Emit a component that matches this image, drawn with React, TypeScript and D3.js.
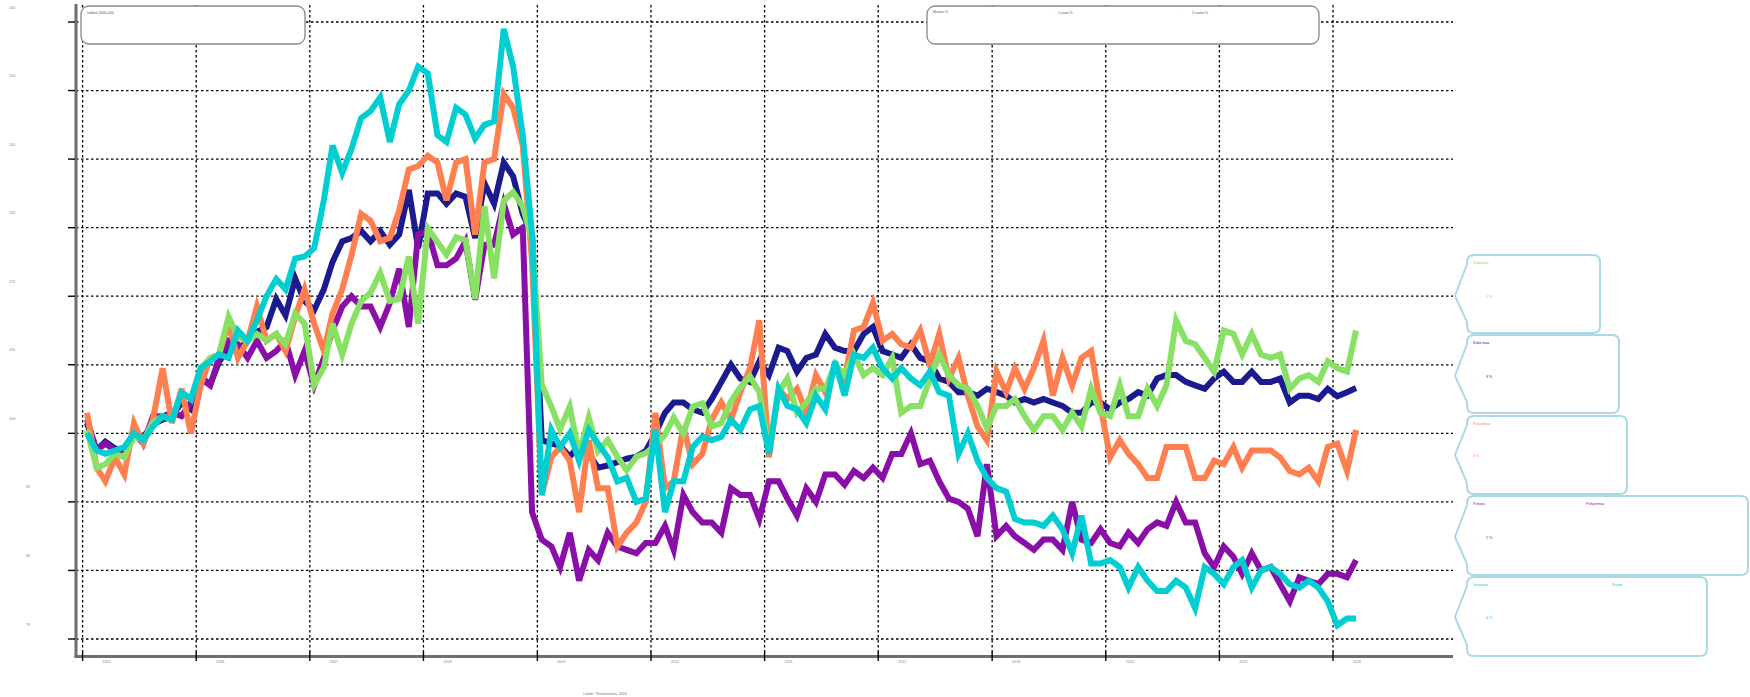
import React from 'react';
import * as d3 from 'd3';

const yearTicks = [2005, 2006, 2007, 2008, 2009, 2010, 2011, 2012, 2013, 2014, 2015, 2016];
const yTicks = [160, 150, 140, 130, 120, 110, 100, 90, 80, 70];
const monthCount = 135; // Jan 2005 .. Mar 2016

const kokoMaa = [
  101.5, 97.5, 98.8, 97.8, 97.5, 99.8, 99.5, 101.3, 102.0, 102.5, 104.5, 103.5,
  108.3, 107.1, 110.4, 112.5, 112, 113.6, 114.8, 115.5, 119.6, 117.2, 122.6, 119.3,
  118, 121, 125, 128, 128.5, 129.5, 128, 129.5, 127.5, 129, 135.5, 127,
  135, 135, 133.5, 135, 134.5, 128.5, 136.5, 133.5, 139.5, 137.5, 132, 129,
  99, 98.5, 98.2, 96.6, 98.2, 97, 95, 95.3, 95.8, 96.3, 96.6, 97.4,
  100, 103, 104.5, 104.5, 103.5, 103, 105, 107.5, 110, 108, 107.5, 110.5,
  108.5, 112.5, 112, 109, 111, 111.5, 114.5, 112.5, 112, 112, 114.5, 115.5,
  112, 111.5, 111, 113, 111, 110.5, 108, 107.5, 106, 106, 105.5, 106.5,
  106, 105.5, 104.5, 105, 104.5, 105, 104.5, 104, 103, 103, 104.5, 104.5,
  103.5, 104.5, 105, 106, 105.5, 108, 108.5, 108.5, 107.5, 107, 106.5, 108,
  109, 107.5, 107.5, 109, 107.5, 107.5, 108, 104.5, 105.5, 105.5, 105, 106.5,
  105.4, 106, 106.6,
];

const kaikkiaan = [
  100.5, 95, 95.5, 97, 96.5, 99.5, 99, 101.5, 102.5, 102, 106, 105,
  109.5, 111, 111.5, 117, 114, 113.5, 114.5, 113.5, 114.5, 113, 117.5, 116,
  107.1, 109.6, 116, 111.5, 116, 119.3, 120.5, 123.4, 119.3, 119.6, 125.8, 116,
  129.9, 127.9, 126.1, 128.6, 128.2, 119.6, 133.1, 122.6, 133.9, 135.2, 133.1, 128.2,
  107.1, 103.9, 100.6, 103.9, 96.9, 102.3, 97.4, 99, 96.6, 94.6, 96.6, 97.1,
  98.2, 99.8, 102.3, 100, 103.9, 104.4, 101, 101.5, 104.7, 106.7, 108.3, 106,
  97.5, 106, 108, 103, 104.5, 106.5, 106.5, 110, 108.5, 111.5, 108.5, 109.5,
  108.5, 111, 103, 104, 104, 108, 111.5, 108.5, 107, 106.5, 104, 100.8,
  104, 104, 105, 102.5, 100.5, 102.5, 102.5, 100.5, 103, 101, 106.5, 103,
  102.5, 107, 102.5, 102.5, 106.5, 104, 107, 116.5, 113.5, 113, 111, 109,
  115, 114.5, 111.5, 114.5, 111.5, 111, 111.5, 106.5, 108, 108.5, 107.5, 110.5,
  109.5, 109, 115,
];

const pirkanmaa = [
  103, 95, 93, 96.5, 94, 101.5, 98.5, 102, 109.5, 101.5, 106.5, 100,
  107, 111, 111.5, 116, 111, 113.5, 118.5, 113.5, 114.5, 112, 117, 121,
  116, 112, 117.5, 121, 126, 132, 131, 128, 128.5, 132.5, 138.5, 139,
  140.5, 139.5, 134, 139.5, 140, 129, 139.5, 140, 149.5, 147.5, 142, 125,
  91, 96.5, 98, 96, 88.5, 99, 92, 92, 83.5, 85.5, 87, 90,
  103, 92, 93, 101, 95.5, 97, 102, 104.5, 102, 106, 109.5, 116.5,
  96.5, 106.5, 105, 106.5, 103, 108.5, 106, 110, 108, 115, 115.5, 119,
  113.5, 114.5, 113, 112.5, 115, 110, 114.5, 108, 111, 105.5, 101, 99,
  109, 106, 109.5, 106.5, 109.5, 113.5, 105.5, 111, 107, 111, 112, 104,
  96.5, 99, 97, 95.5, 93.5, 93.5, 98, 98, 98, 93.5, 93.5, 96,
  95.5, 98, 95, 97.5, 97.5, 97.5, 96.5, 94.5, 94, 95, 93, 98,
  98.5, 94.5, 100.5,
];

const pohjoisPohjanmaa = [
  102, 97.5, 98.5, 97.5, 97.5, 100, 98.5, 102.5, 102.5, 103, 102.5, 104.5,
  108, 107, 111, 113.5, 113, 111, 113.5, 111, 112, 113.5, 108.5, 112,
  107, 111, 115, 118.5, 120, 118.5, 118.5, 115.5, 119, 124, 115.5, 129,
  129.5, 124.5, 124.5, 125.5, 128, 119.5, 127.5, 127.5, 133.5, 129, 130, 88.5,
  84.5, 83.5, 80.5, 85.5, 78.5, 83, 81.5, 85.5, 83.5, 83, 82.5, 84,
  84, 86.5, 83, 91, 88.5, 87, 87, 85.5, 92, 91, 91, 87.5,
  93, 93, 90.5, 88, 92, 90, 94, 94, 92.5, 94.5, 93.5, 95,
  93.5, 97, 97, 100, 95.5, 96, 93, 90.5, 90, 89, 85, 95.5,
  85, 86.5, 85, 84, 83, 84.5, 84.5, 83, 90, 84.5, 84, 86,
  84, 83.5, 85.5, 84, 86, 87, 86.5, 90, 87, 87, 82.5, 80.5,
  83.5, 82, 79.5, 82.5, 80, 80.5, 78, 75.5, 79, 78.5, 78, 79.5,
  79.5, 79, 81.5,
];

const varsinaisSuomi = [
  100, 97.5, 97, 97.5, 98, 100, 99, 101, 102.5, 102, 106, 105,
  109.5, 110.5, 111.5, 111, 115, 113.5, 116.5, 120, 122.5, 121, 125.5, 125.8,
  127, 134, 142, 138, 141.5, 146, 147, 149, 142.5, 148, 150, 153.5,
  152.5, 143.5, 142.5, 147.5, 146.5, 143, 145, 145.5, 159, 153.5, 143.5, 129,
  91, 100.5, 98, 100, 96, 100.5, 98.5, 96.5, 93, 93.5, 90, 90.5,
  100.5, 88.5, 93, 93, 98, 99.5, 99, 99.5, 102, 100.5, 103.5, 104,
  97, 106.5, 104, 103.5, 101.5, 105.5, 103.5, 110.5, 105.5, 111.5, 111, 112.5,
  109.5, 108, 109.5, 108, 107, 109, 106, 105.5, 97, 100, 96, 93.5,
  92, 91.5, 87.5, 87, 87, 86.5, 88, 86, 82.5, 88, 81, 81,
  81.5, 80.5, 77.5, 80.5, 78.5, 77, 77, 78.5, 77.5, 74.5, 80.5, 79.5,
  78, 80.5, 81.5, 77.5, 80, 80.5, 79.5, 78, 77.5, 78.5, 77.5, 75.5,
  72, 73, 73,
];

const seriesNames = ['Koko maa', 'Pohjois-Pohjanmaa', 'Pirkanmaa', 'Kaikkiaan', 'Varsinais-Suomi'];
const seriesValues = [kokoMaa, pohjoisPohjanmaa, pirkanmaa, kaikkiaan, varsinaisSuomi];
const seriesColors = ['#1b1b8f', '#8a0fa8', '#ff7f50', '#88e065', '#00ced1'];

// callouts (top to bottom)
const calloutLabelA = ['Kaikkiaan', 'Koko maa', 'Pirkanmaa', 'Pohjois-', 'Varsinais-'];
const calloutLabelB = ['', '', '', 'Pohjanmaa', 'Suomi'];
const calloutValues = ['3 %', '3 %', '2 %', '2 %', '4 %'];
const calloutColors = ['#88e065', '#1b1b8f', '#ff7f50', '#8a0fa8', '#00ced1'];

const FONT = 'Liberation Sans, Arial, sans-serif';

export default function App() {
  const W = 1750;
  const H = 697;
  const x = d3.scaleTime().domain([new Date(2005, 0, 1), new Date(2016, 0, 1)]).range([82.6, 1333]);
  const y = d3.scaleLinear().domain([70, 160]).range([639, 22]);
  const months = d3.range(monthCount).map((i) => new Date(2005, i, 15));
  const line = d3
    .line<number>()
    .x((_, i) => x(months[i]))
    .y((d) => y(d));

  const plotRight = 1453;
  const axisX = 76;
  const axisY = 656.5;

  const calloutBoxes = [
    { y0: 255, y1: 333, x1: 1600, tip: 296 },
    { y0: 335, y1: 413, x1: 1619, tip: 376 },
    { y0: 416, y1: 494, x1: 1627, tip: 455 },
    { y0: 496, y1: 575, x1: 1748, tip: 537 },
    { y0: 577, y1: 656, x1: 1707, tip: 617 },
  ];
  const boxPath = (x0: number, y0: number, x1: number, y1: number, tipX: number, tipY: number) => {
    const r = 7;
    const p = d3.path();
    p.moveTo(x0 + r, y0);
    p.lineTo(x1 - r, y0);
    p.quadraticCurveTo(x1, y0, x1, y0 + r);
    p.lineTo(x1, y1 - r);
    p.quadraticCurveTo(x1, y1, x1 - r, y1);
    p.lineTo(x0 + r, y1);
    p.quadraticCurveTo(x0, y1, x0, y1 - r);
    p.lineTo(x0, y1 - 11);
    p.lineTo(tipX, tipY);
    p.lineTo(x0, y0 + 9);
    p.lineTo(x0, y0 + r);
    p.quadraticCurveTo(x0, y0, x0 + r, y0);
    p.closePath();
    return p.toString();
  };

  return (
    <div style={{ position: 'absolute', left: 0, top: 0, width: W, height: H, background: '#fff' }}>
      <svg width={W} height={H} style={{ display: 'block', fontFamily: FONT }}>
        <rect width={W} height={H} fill="#fff" />
        {/* horizontal gridlines */}
        {yTicks.map((t) => (
          <line key={'hg' + t} x1={axisX} x2={plotRight} y1={y(t)} y2={y(t)} stroke="#000" strokeWidth={1.3} strokeDasharray="2.5,2.5" />
        ))}
        {/* vertical gridlines */}
        {yearTicks.map((yr) => (
          <line key={'vg' + yr} x1={x(new Date(yr, 0, 1))} x2={x(new Date(yr, 0, 1))} y1={5} y2={653} stroke="#000" strokeWidth={1.3} strokeDasharray="2.5,2.5" />
        ))}
        {/* top boxes */}
        <rect x={81} y={6} width={224} height={38} rx={8} fill="#fff" stroke="#888" strokeWidth={1.3} />
        <text x={87} y={14} fontSize={3.4} fill="#555">Indeksi 2005=100</text>
        <rect x={927} y={6} width={392} height={38} rx={8} fill="#fff" stroke="#888" strokeWidth={1.3} />
        <text x={933} y={13} fontSize={3.4} fill="#555">Muutos %</text>
        <text x={1058} y={14} fontSize={3.4} fill="#555">1 vuosi %</text>
        <text x={1192} y={14} fontSize={3.4} fill="#555">5 vuotta %</text>
        <text x={1048} y={11} fontSize={3} fill="#aaa">·</text>
        <text x={1181} y={11} fontSize={3} fill="#aaa">·</text>

        {/* data lines */}
        {seriesValues.map((vals, k) => (
          <path key={seriesNames[k]} d={line(vals) || ''} fill="none" stroke={seriesColors[k]} strokeWidth={6} strokeLinejoin="miter" strokeMiterlimit={4} />
        ))}

        {/* axes */}
        <line x1={axisX} x2={axisX} y1={4} y2={axisY + 1.5} stroke="#6e6e6e" strokeWidth={3} />
        <line x1={axisX - 1.5} x2={plotRight} y1={axisY} y2={axisY} stroke="#6e6e6e" strokeWidth={3} />
        {yTicks.map((t) => (
          <line key={'yt' + t} x1={68} x2={axisX - 1} y1={y(t)} y2={y(t)} stroke="#000" strokeWidth={1.4} />
        ))}
        {yearTicks.map((yr) => (
          <line key={'xt' + yr} x1={x(new Date(yr, 0, 1))} x2={x(new Date(yr, 0, 1))} y1={652} y2={661} stroke="#000" strokeWidth={1.4} />
        ))}
        {/* y labels */}
        {yTicks.map((t) => (
          <text key={'yl' + t} x={t >= 100 ? 9 : 26} y={y(t) - 13.5} fontSize={3.8} fill="#888">{t}</text>
        ))}
        {/* x labels */}
        {yearTicks.map((yr) => (
          <text key={'xl' + yr} x={x(new Date(yr, 0, 1)) + 24} y={663} fontSize={3.8} fill="#888" textAnchor="middle">{yr}</text>
        ))}
        <text x={605} y={695} fontSize={3.6} fill="#777" textAnchor="middle">Lähde: Tilastokeskus, 2016</text>

        {/* callouts */}
        {calloutBoxes.map((b, k) => (
          <g key={'co' + k}>
            <path d={boxPath(1467, b.y0, b.x1, b.y1, 1455, b.tip)} fill="#fff" stroke="#add8e6" strokeWidth={2} />
            <text x={1473} y={b.y0 + 9} fontSize={3.6} fill={calloutColors[k]}>{calloutLabelA[k]}</text>
            {calloutLabelB[k] && (
              <text x={k === 3 ? 1586 : 1612} y={b.y0 + 9} fontSize={3.6} fill={calloutColors[k]}>{calloutLabelB[k]}</text>
            )}
            {k !== 2 && <text x={1473} y={b.tip + 0.5} fontSize={3} fill="#bbb">-</text>}
            <text x={k === 2 ? 1473 : 1486} y={b.tip + 1.5} fontSize={3.6} fill={calloutColors[k]}>{calloutValues[k]}</text>
          </g>
        ))}
      </svg>
    </div>
  );
}
